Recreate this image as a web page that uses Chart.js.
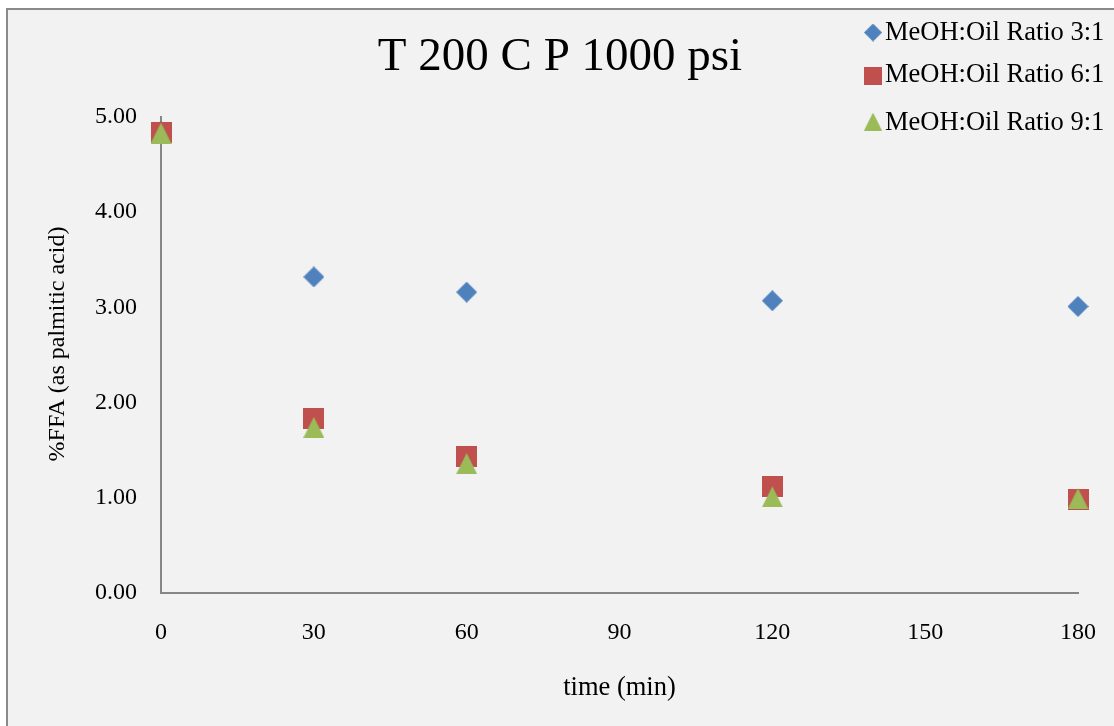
<!DOCTYPE html>
<html>
<head>
<meta charset="utf-8">
<script src="https://cdn.jsdelivr.net/npm/chart.js@4.4.0/dist/chart.umd.min.js"></script>
<style>
  html, body { margin: 0; padding: 0; background: #ffffff; }
  #wrap { width: 1114px; height: 726px; }
</style>
</head>
<body>
<div id="wrap"><canvas id="c" width="1114" height="726"></canvas></div>
<script>
// Reaction time (min) and %FFA measured for each methanol:oil ratio
const timeMin = [0, 30, 60, 120, 180];
const ratio3 = [4.85, 3.32, 3.16, 3.07, 3.01];
const ratio6 = [4.84, 1.83, 1.43, 1.12, 0.98];
const ratio9 = [4.83, 1.74, 1.36, 1.01, 0.99];
const seriesNames = ['MeOH:Oil Ratio 3:1', 'MeOH:Oil Ratio 6:1', 'MeOH:Oil Ratio 9:1'];
const xTicks = [0, 30, 60, 90, 120, 150, 180];
const yTicks = [0, 1, 2, 3, 4, 5];
const yTitle = '%FFA (as palmitic acid)';

const SERIF = "'Liberation Serif', 'Times New Roman', Times, serif";
const BLUE = '#4F81BD', RED = '#C0504D', GREEN = '#9BBB59';

// Small offscreen canvases used as marker shapes (centred on their box)
function marker(kind, color, w, h) {
  const c = document.createElement('canvas');
  c.width = w; c.height = h;
  const g = c.getContext('2d');
  g.fillStyle = color;
  g.beginPath();
  if (kind === 'diamond') {
    g.moveTo(w / 2, 0); g.lineTo(w, h / 2); g.lineTo(w / 2, h); g.lineTo(0, h / 2);
  } else if (kind === 'square') {
    g.rect(0, 0, w, h);
  } else {
    g.moveTo(w / 2, 0); g.lineTo(w, h); g.lineTo(0, h);
  }
  g.closePath();
  g.fill();
  return c;
}
const mDiamond = marker('diamond', BLUE, 21, 21);
const mSquare = marker('square', RED, 21, 21);
const mTriangle = marker('triangle', GREEN, 21, 21);

function pts(ys) { return timeMin.map((t, i) => ({ x: t, y: ys[i] })); }

// Page frame and grey plot background
const framePlugin = {
  id: 'frame',
  beforeDraw(chart) {
    const ctx = chart.ctx;
    ctx.save();
    ctx.fillStyle = '#ffffff';
    ctx.fillRect(0, 0, chart.width, chart.height);
    ctx.fillStyle = '#f2f2f2';
    ctx.fillRect(7, 9, chart.width, chart.height);
    ctx.strokeStyle = '#8a8a8a';
    ctx.lineWidth = 2;
    ctx.strokeRect(7, 9, chart.width + 20, chart.height + 20);
    ctx.restore();
  }
};

// Legend in the top-right corner, stacked vertically, plus the rotated value-axis title
const annotatePlugin = {
  id: 'annotate',
  afterDraw(chart) {
    const ctx = chart.ctx;
    const items = [
      { img: mDiamond, cy: 32.5, base: 39.5 },
      { img: mSquare, cy: 76, base: 82 },
      { img: mTriangle, cy: 121.5, base: 129.5 }
    ];
    ctx.save();
    ctx.font = '26.5px ' + SERIF;
    ctx.fillStyle = '#000';
    ctx.textBaseline = 'alphabetic';
    ctx.textAlign = 'left';
    items.forEach((it, i) => {
      ctx.drawImage(it.img, 873 - 9, it.cy - 9, 18, 18);
      ctx.fillText(seriesNames[i], 885, it.base);
    });
    ctx.restore();

    ctx.save();
    ctx.font = '24px ' + SERIF;
    ctx.fillStyle = '#000';
    ctx.textAlign = 'center';
    ctx.textBaseline = 'middle';
    ctx.translate(58, 344);
    ctx.rotate(-Math.PI / 2);
    ctx.fillText(yTitle, 0, 0);
    ctx.restore();
  }
};

new Chart(document.getElementById('c'), {
  type: 'scatter',
  data: {
    datasets: [
      { label: seriesNames[0], data: pts(ratio3), pointStyle: mDiamond, pointRadius: 10, order: 2, clip: false },
      { label: seriesNames[1], data: pts(ratio6), pointStyle: mSquare, pointRadius: 10, order: 1, clip: false },
      { label: seriesNames[2], data: pts(ratio9), pointStyle: mTriangle, pointRadius: 10, order: 0, clip: false }
    ]
  },
  options: {
    responsive: false,
    animation: false,
    devicePixelRatio: 1,
    layout: { padding: { left: 42, right: 36, top: 0, bottom: 0 } },
    plugins: {
      legend: { display: false },
      tooltip: { enabled: false },
      title: {
        display: true,
        text: 'T 200 C P 1000 psi',
        color: '#000',
        font: { family: SERIF, size: 47, weight: 'normal' },
        padding: { top: 29, bottom: 31.6 }
      }
    },
    scales: {
      x: {
        type: 'linear',
        min: 0, max: 180,
        afterBuildTicks: s => { s.ticks = xTicks.map(v => ({ value: v })); },
        afterFit: s => { s.height = 133; s.paddingLeft = 0; s.paddingRight = 0; },
        grid: { display: false, drawTicks: false },
        border: { display: true, color: '#868686', width: 2 },
        ticks: { color: '#000', font: { family: SERIF, size: 24 }, padding: 25, maxRotation: 0, autoSkip: false },
        title: { display: true, text: 'time (min)', color: '#000', font: { family: SERIF, size: 26.5 }, padding: { top: 0, bottom: 22 } }
      },
      y: {
        type: 'linear',
        min: 0, max: 5,
        afterBuildTicks: s => { s.ticks = yTicks.map(v => ({ value: v })); },
        afterFit: s => { s.width = 119; s.paddingTop = 0; s.paddingBottom = 0; },
        grid: { display: false, drawTicks: false },
        border: { display: true, color: '#868686', width: 2 },
        ticks: { color: '#000', font: { family: SERIF, size: 24 }, padding: 24, callback: v => Number(v).toFixed(2) },
        title: { display: false }
      }
    }
  },
  plugins: [framePlugin, annotatePlugin]
});
</script>
</body>
</html>
